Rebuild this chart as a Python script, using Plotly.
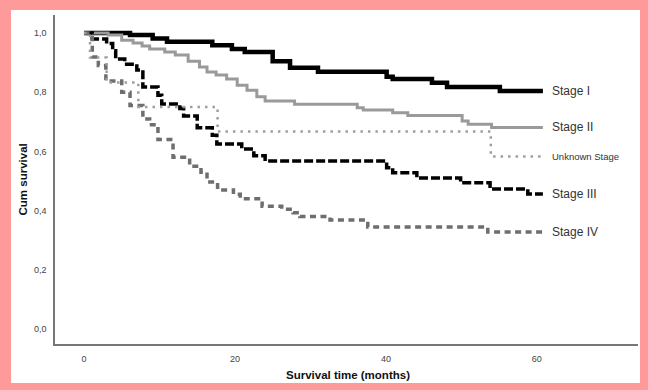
import plotly.graph_objects as go

# ---- data (Kaplan-Meier step levels) ----
stage1_t = [0, 6.1, 9.1, 11.0, 17.0, 19.6, 21.3, 25.0, 27.3, 31.0, 40.1, 40.9, 46.1, 48.1, 55.1, 60.8]
stage1_s = [1.0, 0.993, 0.982, 0.971, 0.959, 0.946, 0.936, 0.905, 0.883, 0.869, 0.852, 0.845, 0.832, 0.818, 0.804, 0.804]

stage2_t = [0, 3.2, 5.0, 6.5, 7.7, 8.7, 10.7, 12.1, 13.8, 15.3, 16.3, 17.5, 18.9, 20.3, 21.6, 22.9,
            24.0, 27.9, 36.2, 37.0, 40.9, 42.9, 50.1, 50.9, 54.0, 60.8]
stage2_s = [1.0, 0.993, 0.976, 0.966, 0.956, 0.946, 0.936, 0.926, 0.905, 0.885, 0.868, 0.858, 0.845, 0.824, 0.807, 0.785,
            0.770, 0.759, 0.748, 0.740, 0.731, 0.721, 0.703, 0.692, 0.681, 0.681]

unknown_t = [0, 0.8, 3.0, 7.2, 17.7, 53.9, 60.8]
unknown_s = [1.0, 0.917, 0.833, 0.75, 0.667, 0.583, 0.583]

stage3_t = [0, 1.1, 3.0, 3.8, 4.2, 5.4, 7.0, 7.8, 9.8, 10.3, 12.7, 13.2, 15.0, 17.0, 17.6, 20.9, 22.5, 24.0,
            40.1, 40.9, 44.1, 49.9, 53.8, 58.8, 60.8]
stage3_s = [1.0, 0.98, 0.965, 0.94, 0.912, 0.895, 0.875, 0.818, 0.79, 0.76, 0.745, 0.72, 0.68, 0.655, 0.625, 0.608, 0.585, 0.568,
            0.545, 0.528, 0.51, 0.494, 0.473, 0.456, 0.456]

stage4_t = [0, 0.5, 1.1, 1.9, 2.9, 5.0, 6.1, 7.8, 8.7, 9.8, 11.8, 14.0, 15.5, 16.3, 17.7, 19.8, 20.7, 23.6,
            26.2, 27.7, 28.6, 32.6, 37.6, 53.5, 60.8]
stage4_s = [1.0, 0.985, 0.919, 0.89, 0.838, 0.80, 0.755, 0.71, 0.69, 0.64, 0.58, 0.55, 0.53, 0.497, 0.47, 0.455, 0.44, 0.415,
            0.405, 0.393, 0.38, 0.368, 0.345, 0.328, 0.328]

series_names = ["Stage I", "Stage II", "Unknown Stage", "Stage III", "Stage IV"]

x_ticks = [0, 20, 40, 60]
x_ticktext = ["0", "20", "40", "60"]
y_ticks = [0.0, 0.2, 0.4, 0.6, 0.8, 1.0]
y_ticktext = ["0,0", "0,2", "0,4", "0,6", "0,8", "1,0"]

# ---- figure ----
FONT = "Liberation Sans, Arial, sans-serif"
fig = go.Figure()

styles = {
    "Stage I": dict(color="#000000", width=4.5, dash="solid"),
    "Stage II": dict(color="#9a9a9a", width=3, dash="solid"),
    "Stage III": dict(color="#000000", width=3.5, dash="9px,3px"),
    "Stage IV": dict(color="#6e6e6e", width=3.5, dash="6px,4.5px"),
    "Unknown Stage": dict(color="#9f9f9f", width=2.5, dash="2.5px,5px"),
}
data = {
    "Stage I": (stage1_t, stage1_s),
    "Stage II": (stage2_t, stage2_s),
    "Stage III": (stage3_t, stage3_s),
    "Stage IV": (stage4_t, stage4_s),
    "Unknown Stage": (unknown_t, unknown_s),
}
for name in ["Stage I", "Stage II", "Stage III", "Stage IV", "Unknown Stage"]:
    t, s = data[name]
    fig.add_trace(go.Scatter(x=t, y=s, mode="lines", name=name,
                             line=dict(shape="hv", **styles[name]), showlegend=False))

# end-of-curve labels
for name in series_names:
    t, s = data[name]
    fig.add_annotation(x=61.8, y=s[-1], xref="x", yref="y", text=name, showarrow=False,
                       xanchor="left", yanchor="middle",
                       font=dict(family=FONT, size=9.5 if name == "Unknown Stage" else 12, color="#333333"))

W, H = 648, 390
L, R, T, B = 55, 10, 15, 46
pw, ph = W - L - R, H - T - B

# white panel on pink background (paper coords extend past plot area)
fig.add_shape(type="rect", xref="paper", yref="paper", layer="below",
              x0=(11 - L) / pw, x1=(640 - L) / pw, y0=(H - B - 383) / ph, y1=(H - B - 10) / ph,
              fillcolor="white", line=dict(width=0))

# axis titles
fig.add_annotation(x=(348 - L) / pw, y=(H - B - 375) / ph, xref="paper", yref="paper",
                   text="<b>Survival time (months)</b>", showarrow=False,
                   xanchor="center", yanchor="middle",
                   font=dict(family=FONT, size=11.5, color="#111111"))
fig.add_annotation(x=(22 - L) / pw, y=0.5, xref="paper", yref="paper",
                   text="<b>Cum survival</b>", showarrow=False, textangle=-90,
                   xanchor="center", yanchor="middle",
                   font=dict(family=FONT, size=11.5, color="#111111"))

fig.update_layout(
    width=W, height=H,
    margin=dict(l=L, r=R, t=T, b=B, pad=0),
    paper_bgcolor="#ff9a9a",
    plot_bgcolor="white",
    font=dict(family=FONT, size=9, color="#444444"),
    xaxis=dict(range=[-3.84, 73.4], tickvals=x_ticks, ticktext=x_ticktext,
               showgrid=False, zeroline=False, showline=True, linecolor="#777777", linewidth=1.5,
               ticks="", ticklabelstandoff=5, tickfont=dict(family=FONT, size=9, color="#444444")),
    yaxis=dict(range=[-0.0507, 1.061], tickvals=y_ticks, ticktext=y_ticktext,
               showgrid=False, zeroline=False, showline=True, linecolor="#777777", linewidth=1.5,
               ticks="", ticklabelstandoff=5, tickfont=dict(family=FONT, size=9, color="#444444")),
)

fig.write_html("out.html")
